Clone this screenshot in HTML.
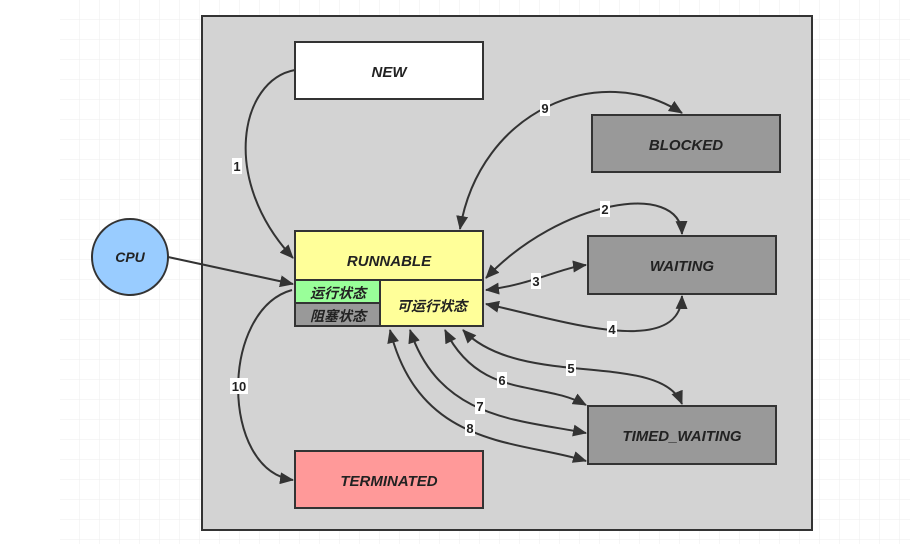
<!DOCTYPE html>
<html><head><meta charset="utf-8"><style>
body{margin:0;width:910px;height:544px;background:#fff;overflow:hidden}
svg text{font-family:"Liberation Sans","Noto Sans CJK SC",sans-serif;font-weight:bold;font-style:italic;fill:#222}
.n{font-style:normal;font-size:13px}
</style></head><body>
<svg width="910" height="544" viewBox="0 0 910 544" xmlns="http://www.w3.org/2000/svg">
<defs>
<pattern id="g" width="20" height="20" patternUnits="userSpaceOnUse"><path d="M20 0V20H0" fill="none" stroke="#eee" stroke-width="1"/></pattern>
<marker id="a" markerWidth="14" markerHeight="12" refX="13" refY="6" orient="auto-start-reverse" markerUnits="userSpaceOnUse"><path d="M0,0 L14,6 L0,12 Z" fill="#333"/></marker>
</defs>
<rect x="60" y="0" width="850" height="544" fill="url(#g)"/>
<rect x="202" y="16" width="610" height="514" fill="#d3d3d3" stroke="#333" stroke-width="2"/>
<g fill="none" stroke="#333" stroke-width="2">
<path d="M295 70 C240 80 220 180 293 258" marker-end="url(#a)"/>
<path d="M292 290 C220 310 220 470 293 480" marker-end="url(#a)"/>
<path d="M168 257 L293 284" marker-end="url(#a)"/>
<path d="M460 229 C480 110 600 60 682 113" marker-start="url(#a)" marker-end="url(#a)"/>
<path d="M486 278 C560 200 680 180 682 234" marker-start="url(#a)" marker-end="url(#a)"/>
<path d="M486 290 C530 285 560 268 586 265" marker-start="url(#a)" marker-end="url(#a)"/>
<path d="M486 304 C560 320 680 360 682 296" marker-start="url(#a)" marker-end="url(#a)"/>
<path d="M463 330 C520 390 660 350 682 404" marker-start="url(#a)" marker-end="url(#a)"/>
<path d="M445 330 C480 400 540 380 586 405" marker-start="url(#a)" marker-end="url(#a)"/>
<path d="M410 330 C440 420 520 420 586 433" marker-start="url(#a)" marker-end="url(#a)"/>
<path d="M390 330 C420 450 520 440 586 461" marker-start="url(#a)" marker-end="url(#a)"/>
</g>
<rect x="295" y="42" width="188" height="57" fill="#fff" stroke="#333" stroke-width="2"/>
<text x="389" y="77" text-anchor="middle" font-size="15">NEW</text>
<rect x="592" y="115" width="188" height="57" fill="#999" stroke="#333" stroke-width="2"/>
<text x="686" y="150" text-anchor="middle" font-size="15">BLOCKED</text>
<rect x="588" y="236" width="188" height="58" fill="#999" stroke="#333" stroke-width="2"/>
<text x="682" y="271" text-anchor="middle" font-size="15">WAITING</text>
<rect x="588" y="406" width="188" height="58" fill="#999" stroke="#333" stroke-width="2"/>
<text x="682" y="441" text-anchor="middle" font-size="15">TIMED_WAITING</text>
<rect x="295" y="451" width="188" height="57" fill="#ff9999" stroke="#333" stroke-width="2"/>
<text x="389" y="486" text-anchor="middle" font-size="15">TERMINATED</text>
<rect x="295" y="231" width="188" height="95" fill="#ffff99" stroke="#333" stroke-width="2"/>
<line x1="295" y1="280" x2="483" y2="280" stroke="#333" stroke-width="2"/>
<rect x="295" y="280" width="85" height="23" fill="#99ff99" stroke="#333" stroke-width="2"/>
<rect x="295" y="303" width="85" height="23" fill="#999" stroke="#333" stroke-width="2"/>
<text x="389" y="266" text-anchor="middle" font-size="15">RUNNABLE</text>
<text x="338" y="298" text-anchor="middle" font-size="14">运行状态</text>
<text x="338" y="321" text-anchor="middle" font-size="14">阻塞状态</text>
<text x="432" y="311" text-anchor="middle" font-size="14">可运行状态</text>
<circle cx="130" cy="257" r="38" fill="#99ccff" stroke="#333" stroke-width="2"/>
<text x="130" y="262" text-anchor="middle" font-size="14">CPU</text>
<g>
<rect x="232" y="158" width="10" height="16" fill="#fff"/><text class="n" x="237" y="171" text-anchor="middle">1</text>
<rect x="600" y="201" width="10" height="16" fill="#fff"/><text class="n" x="605" y="214" text-anchor="middle">2</text>
<rect x="531" y="273" width="10" height="16" fill="#fff"/><text class="n" x="536" y="286" text-anchor="middle">3</text>
<rect x="607" y="321" width="10" height="16" fill="#fff"/><text class="n" x="612" y="334" text-anchor="middle">4</text>
<rect x="566" y="360" width="10" height="16" fill="#fff"/><text class="n" x="571" y="373" text-anchor="middle">5</text>
<rect x="497" y="372" width="10" height="16" fill="#fff"/><text class="n" x="502" y="385" text-anchor="middle">6</text>
<rect x="475" y="398" width="10" height="16" fill="#fff"/><text class="n" x="480" y="411" text-anchor="middle">7</text>
<rect x="465" y="420" width="10" height="16" fill="#fff"/><text class="n" x="470" y="433" text-anchor="middle">8</text>
<rect x="540" y="100" width="10" height="16" fill="#fff"/><text class="n" x="545" y="113" text-anchor="middle">9</text>
<rect x="230" y="378" width="18" height="16" fill="#fff"/><text class="n" x="239" y="391" text-anchor="middle">10</text>
</g>
</svg>
</body></html>
